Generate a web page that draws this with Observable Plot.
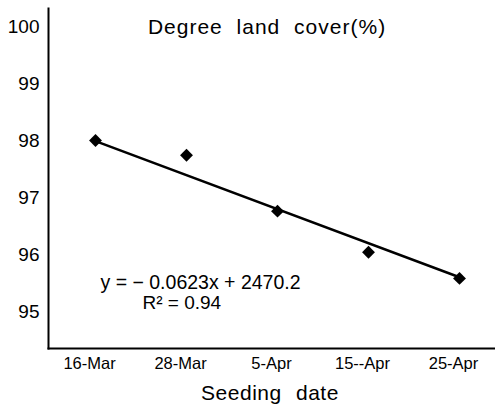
<!DOCTYPE html>
<html>
<head>
<meta charset="utf-8">
<script src="https://cdn.jsdelivr.net/npm/d3@7"></script>
<script src="https://cdn.jsdelivr.net/npm/@observablehq/plot@0.6"></script>
<style>
  html, body { margin: 0; padding: 0; background: #fff; }
  svg { font-family: "Liberation Sans", Arial, sans-serif; }
</style>
</head>
<body>
<div id="chart"></div>
<script>
const dates = ["16-Mar", "28-Mar", "5-Apr", "15--Apr", "25-Apr"];
const cover = [98.0, 97.74, 96.76, 96.04, 95.58];
const trendDates = ["16-Mar", "25-Apr"];
const trendValues = [97.99, 95.6];
const yTicks = [95, 96, 97, 98, 99, 100];
const titleText = "Degree land cover(%)";
const xLabel = "Seeding date";
const equation = "y = − 0.0623x + 2470.2";
const r2 = "R² = 0.94";

const points = dates.map((d, i) => ({date: d, value: cover[i]}));
const trend = trendDates.map((d, i) => ({date: d, value: trendValues[i]}));

const chart = Plot.plot({
  width: 495,
  height: 408,
  marginLeft: 48,
  marginRight: 0,
  marginTop: 8,
  marginBottom: 60,
  style: {fontFamily: "Liberation Sans, Arial, sans-serif", color: "#000", background: "#fff"},
  x: {type: "point", domain: dates, padding: 0, insetLeft: 47, insetRight: 36, label: null},
  y: {domain: [94.35, 100.316], label: null},
  marks: [
    Plot.axisY({ticks: yTicks, tickFormat: d => String(d), tickSize: 0, tickPadding: 9, fontSize: 19, label: null}),
    Plot.axisX({tickSize: 0, tickPadding: 9, fontSize: 16.5, dx: -6, label: null}),
    Plot.frame({anchor: "left", stroke: "#000", strokeWidth: 2}),
    Plot.frame({anchor: "bottom", stroke: "#000", strokeWidth: 2}),
    Plot.line(trend, {x: "date", y: "value", stroke: "#000", strokeWidth: 2.5}),
    Plot.dot(points, {x: "date", y: "value", symbol: "diamond2", r: 5.8, fill: "#000", stroke: "none"}),
    Plot.text([titleText], {frameAnchor: "top", lineAnchor: "middle", dx: -5, dy: 19, fontSize: 21, fill: "#000"}),
    Plot.text([xLabel], {frameAnchor: "bottom", lineAnchor: "middle", dx: -2, dy: 45, fontSize: 21, fill: "#000"}),
    Plot.text([equation], {frameAnchor: "top-left", lineAnchor: "middle", dx: 52, dy: 274, textAnchor: "start", fontSize: 19.5, fill: "#000"}),
    Plot.text([r2], {frameAnchor: "top-left", lineAnchor: "middle", dx: 94, dy: 294, textAnchor: "start", fontSize: 19, fill: "#000"})
  ]
});
d3.select(chart).selectAll("text")
  .filter(function() { return this.textContent === titleText; })
  .style("letter-spacing", "1px").style("word-spacing", "7px");
d3.select(chart).selectAll("text")
  .filter(function() { return this.textContent === xLabel; })
  .style("letter-spacing", "0.5px").style("word-spacing", "8px");
document.getElementById("chart").appendChild(chart);
</script>
</body>
</html>
